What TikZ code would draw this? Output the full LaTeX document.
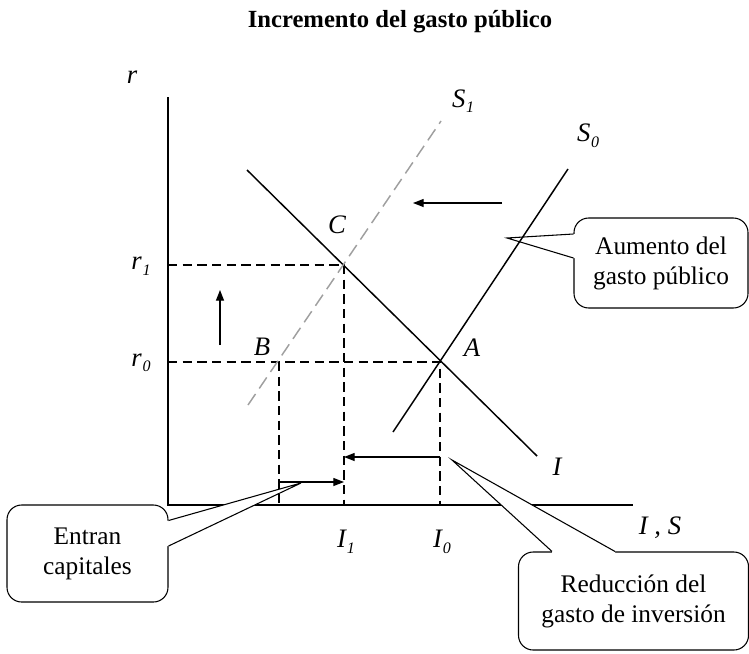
\documentclass[tikz,border=0pt]{standalone}
\usepackage{fontspec}
\setmainfont{Liberation Serif}
\usetikzlibrary{arrows.meta, calc}
\newcommand{\sublab}[2]{\textit{#1}\kern0.5pt\raisebox{-0.45ex}{\fontsize{12}{12}\selectfont\itshape #2}}

\begin{document}
\begin{tikzpicture}[x=0.75pt, y=-0.75pt,
        axis/.style={draw, line width=0.9pt},
        curve/.style={draw, line width=1.1pt},
        guide/.style={draw, line width=0.8pt, dash pattern=on 7pt off 4pt},
        shifted/.style={draw=gray!75, line width=1.1pt, dash pattern=on 10pt off 5pt},
        move/.style={draw, line width=0.9pt, -{Triangle[length=8pt, width=6pt]}},
        lbl/.style={font=\fontsize{20}{24}\selectfont\itshape, inner sep=0pt},
        callbox/.style={rectangle, draw, fill=white, line width=0.8pt, rounded corners=11pt, align=center, inner sep=0pt, font=\fontsize{19}{22.5}\selectfont},
        pointer/.style={draw, line width=0.8pt}]

    \useasboundingbox (0,0) rectangle (749,653);

    \node[font=\bfseries\fontsize{18.5}{22}\selectfont, anchor=base, inner sep=0pt] (title) at (400,27) {Incremento del gasto público};

    % axes
    \coordinate (O) at (168,505);
    \coordinate (ytop) at (168,97);
    \coordinate (xend) at (633,505);
    \path[axis] (ytop) -- (O) -- (xend);

    % callouts
    \node[callbox, minimum width=130.5pt, minimum height=67.5pt] (aum) at (661,263) {Aumento del\\gasto público};
    \coordinate (aum-tip) at (507,238);
    \coordinate (aum-b1) at ($(aum.west)+(0,-29)$);
    \coordinate (aum-b2) at ($(aum.west)+(0,-5)$);
    \fill[white] (aum-tip) -- (aum-b1) -- ($(aum-b1)+(2,0)$) -- ($(aum-b2)+(2,0)$) -- (aum-b2) -- cycle;
    \path[pointer] (aum-b1) -- (aum-tip) -- (aum-b2);

    \node[callbox, minimum width=120.75pt, minimum height=72.75pt] (ent) at (87.5,553.5) {Entran\\capitales};
    \coordinate (ent-tip) at (301,483);
    \coordinate (ent-b1) at ($(ent.east)+(0,-33)$);
    \coordinate (ent-b2) at ($(ent.east)+(0,-7.5)$);
    \fill[white] (ent-tip) -- (ent-b1) -- ($(ent-b1)+(-2,0)$) -- ($(ent-b2)+(-2,0)$) -- (ent-b2) -- cycle;
    \path[pointer] (ent-b1) -- (ent-tip) -- (ent-b2);

    \node[callbox, minimum width=172.5pt, minimum height=73.5pt] (red) at (633.5,601) {Reducción del\\gasto de inversión};
    \coordinate (red-tip) at (452,460);
    \coordinate (red-b1) at ($(red.north)+(-81.5,0)$);
    \coordinate (red-b2) at ($(red.north)+(-18.5,0)$);
    \fill[white] (red-tip) -- (red-b1) -- ($(red-b1)+(0,2)$) -- ($(red-b2)+(0,2)$) -- (red-b2) -- cycle;
    \path[pointer] (red-b1) -- (red-tip) -- (red-b2);

    % equilibrium points
    \coordinate (A) at (440,362);
    \coordinate (B) at (279,362);
    \coordinate (C) at (344,265);

    % guide lines
    \path[guide] (168,265) -- (C) -- (344,505);
    \path[guide] (168,362) -- (A) -- (440,505);
    \path[guide] (B) -- (279,505);

    % curves
    \coordinate (I-a) at (247,170);
    \coordinate (I-b) at (537,456);
    \coordinate (S0-a) at (393,432);
    \coordinate (S0-b) at (568,169);
    \coordinate (S1-a) at (248,405);
    \coordinate (S1-b) at (441,121);
    \path[curve] (I-a) -- (I-b);
    \path[curve] (S0-a) -- (S0-b);
    \path[shifted] (S1-a) -- (S1-b);

    % shifts
    \coordinate (sh-a) at (502,203);
    \coordinate (sh-b) at (413,203);
    \coordinate (up-a) at (220,345);
    \coordinate (up-b) at (220,290);
    \coordinate (inv0) at (440,457);
    \coordinate (inv1) at (344,457);
    \coordinate (cap0) at (279,482);
    \coordinate (cap1) at (344,482);
    \path[move] (sh-a) -- (sh-b);
    \path[move] (up-a) -- (up-b);
    \path[move] (inv0) -- (inv1);
    \path[move] (cap0) -- (cap1);

    % labels
    \node[lbl] (lab-r) at (132,77) {r};
    \node[lbl] (lab-r1) at (141,266) {\sublab{r}{1}};
    \node[lbl] (lab-r0) at (141,363) {\sublab{r}{0}};
    \node[lbl] (lab-C) at (337,225) {C};
    \node[lbl] (lab-B) at (262,347) {B};
    \node[lbl] (lab-A) at (472,348) {A};
    \node[lbl] (lab-S1) at (463,101) {\sublab{S}{1}};
    \node[lbl] (lab-S0) at (588,136) {\sublab{S}{0}};
    \node[lbl] (lab-I) at (557,467) {I};
    \node[lbl] (lab-IS) at (660,528) {I , S};
    \node[lbl] (lab-I1) at (346,542) {\sublab{I}{1}};
    \node[lbl] (lab-I0) at (442,542) {\sublab{I}{0}};
\end{tikzpicture}
\end{document}
